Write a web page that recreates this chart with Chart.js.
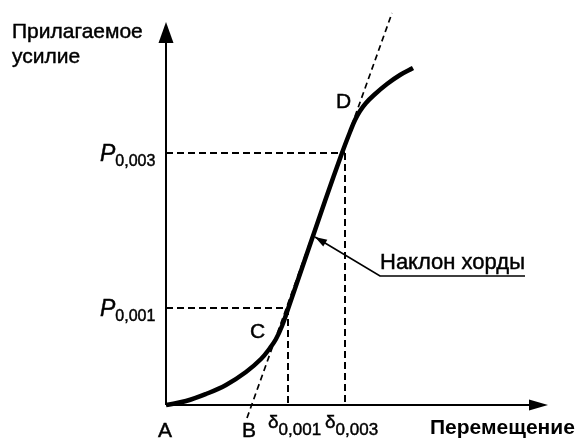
<!DOCTYPE html>
<html>
<head>
<meta charset="utf-8">
<script src="https://cdn.jsdelivr.net/npm/chart.js@4"></script>
<style>
  html, body { margin: 0; padding: 0; background: #fff; }
  canvas { display: block; }
</style>
</head>
<body>
<canvas id="chart" width="577" height="440"></canvas>
<script>
// Load–displacement curve (arbitrary units, origin at point A)
const curveX = [0, 20, 40, 60, 80, 95, 104, 110, 116, 122, 159, 176, 184, 189, 194, 200, 208, 221, 234, 247];
const curveY = [0, 4, 11, 20, 33, 46, 57, 66, 79, 96, 204, 252, 273, 285, 294, 302, 310, 321, 330, 337];

// chord (secant) through C and D, extended
const chordX = [81, 226];
const chordY = [-13, 392];

// reference levels
const deltaLevels = [122, 179];   // δ0,001, δ0,003
const forceLevels = [97, 252];    // P0,001, P0,003

// leader line for "Наклон хорды"
const leaderX = [149, 214, 359];
const leaderY = [168, 129, 129];

const axisEndX = 382;
const axisEndY = 383;

const FONT = '"Liberation Sans", Arial, Helvetica, sans-serif';
const INK = '#000';

const pts = (xs, ys) => xs.map((x, i) => ({ x, y: ys[i] }));

function dashedGuide(points) {
  return {
    data: points, showLine: true, borderColor: INK, borderWidth: 2,
    borderDash: [7, 4], pointRadius: 0, fill: false
  };
}

const datasets = [
  // axes
  { data: [{ x: 0, y: 0 }, { x: 0, y: axisEndY - 20 }], showLine: true, borderColor: INK, borderWidth: 2, pointRadius: 0 },
  { data: [{ x: 0, y: 0 }, { x: axisEndX - 17, y: 0 }], showLine: true, borderColor: INK, borderWidth: 2, pointRadius: 0 },
  // guides
  dashedGuide([{ x: 0, y: forceLevels[0] }, { x: deltaLevels[0], y: forceLevels[0] }]),
  dashedGuide([{ x: deltaLevels[0], y: forceLevels[0] }, { x: deltaLevels[0], y: 0 }]),
  dashedGuide([{ x: 0, y: forceLevels[1] }, { x: deltaLevels[1], y: forceLevels[1] }]),
  dashedGuide([{ x: deltaLevels[1], y: forceLevels[1] }, { x: deltaLevels[1], y: 0 }]),
  // chord
  { data: pts(chordX, chordY), showLine: true, borderColor: INK, borderWidth: 1.7, borderDash: [6, 4], pointRadius: 0 },
  // leader
  { data: pts(leaderX, leaderY), showLine: true, borderColor: INK, borderWidth: 1.7, pointRadius: 0, tension: 0 },
  // curve
  { data: pts(curveX, curveY), showLine: true, borderColor: INK, borderWidth: 4.5, pointRadius: 0,
    tension: 0.4, borderCapStyle: 'butt', borderJoinStyle: 'round' }
];

function arrowHead(ctx, tip, from, len, half) {
  const ang = Math.atan2(tip.y - from.y, tip.x - from.x);
  const bx = tip.x - len * Math.cos(ang), by = tip.y - len * Math.sin(ang);
  const nx = -Math.sin(ang) * half, ny = Math.cos(ang) * half;
  ctx.beginPath();
  ctx.moveTo(tip.x, tip.y);
  ctx.lineTo(bx + nx, by + ny);
  ctx.lineTo(bx - nx, by - ny);
  ctx.closePath();
  ctx.fill();
}

// text drawn slightly heavier, like the scanned original
function text(ctx, s, x, y, font) {
  ctx.font = font;
  ctx.fillText(s, x, y);
  ctx.strokeText(s, x, y);
  return ctx.measureText(s).width;
}

function sub(ctx, x, y, main, mainFont, subText, subFont, drop) {
  const w = text(ctx, main, x, y, mainFont);
  text(ctx, subText, x + w, y + drop, subFont);
}

const annotations = {
  id: 'annotations',
  afterDatasetsDraw(chart) {
    const { ctx, scales: { x, y } } = chart;
    const P = (vx, vy) => ({ x: x.getPixelForValue(vx), y: y.getPixelForValue(vy) });
    ctx.save();
    ctx.fillStyle = INK;
    ctx.strokeStyle = INK;
    ctx.lineWidth = 0.45;

    // axis arrows
    arrowHead(ctx, P(0, axisEndY), P(0, 0), 21, 7.5);
    arrowHead(ctx, P(axisEndX, 0), P(0, 0), 19, 5.5);
    // leader arrow
    arrowHead(ctx, P(leaderX[0], leaderY[0]), P(leaderX[1], leaderY[1]), 12, 4);

    ctx.textBaseline = 'alphabetic';
    ctx.textAlign = 'left';

    // axis titles
    text(ctx, 'Прилагаемое', 12, 38, '21px ' + FONT);
    text(ctx, 'усилие', 12, 63, '21px ' + FONT);
    ctx.font = 'bold 21px ' + FONT;
    ctx.fillText('Перемещение', 430, 434);

    // point letters
    const o = P(0, 0);
    text(ctx, 'A', o.x - 8, 437, '21px ' + FONT);
    const b = P(chordX[0], chordY[0]);
    text(ctx, 'B', b.x - 5, 437, '21px ' + FONT);
    let p = P(curveX[7], curveY[7]);
    text(ctx, 'C', 250, 338, '21px ' + FONT);
    p = P(curveX[14], curveY[14]);
    text(ctx, 'D', p.x - 24, p.y - 3, '21px ' + FONT);

    // δ labels
    for (let i = 0; i < deltaLevels.length; i++) {
      const px = x.getPixelForValue(deltaLevels[i]);
      sub(ctx, px - 20, 428, 'δ', '19px ' + FONT, i === 0 ? '0,001' : '0,003', '17px ' + FONT, 7);
    }

    // P labels
    for (let i = 0; i < forceLevels.length; i++) {
      const py = y.getPixelForValue(forceLevels[i]);
      sub(ctx, 100, py + 8, 'P', 'italic 23px ' + FONT, i === 0 ? '0,001' : '0,003', '16px ' + FONT, 5);
    }

    // leader label
    p = P(leaderX[1], leaderY[1]);
    text(ctx, 'Наклон хорды', p.x, p.y - 7, '22px ' + FONT);

    ctx.restore();
  }
};

new Chart(document.getElementById('chart'), {
  type: 'scatter',
  data: { datasets },
  options: {
    responsive: false,
    animation: false,
    layout: { padding: 0 },
    plugins: { legend: { display: false }, tooltip: { enabled: false } },
    scales: {
      x: { type: 'linear', min: -166, max: 411, display: false },
      y: { type: 'linear', min: -35, max: 405, display: false }
    }
  },
  plugins: [annotations]
});
</script>
</body>
</html>
